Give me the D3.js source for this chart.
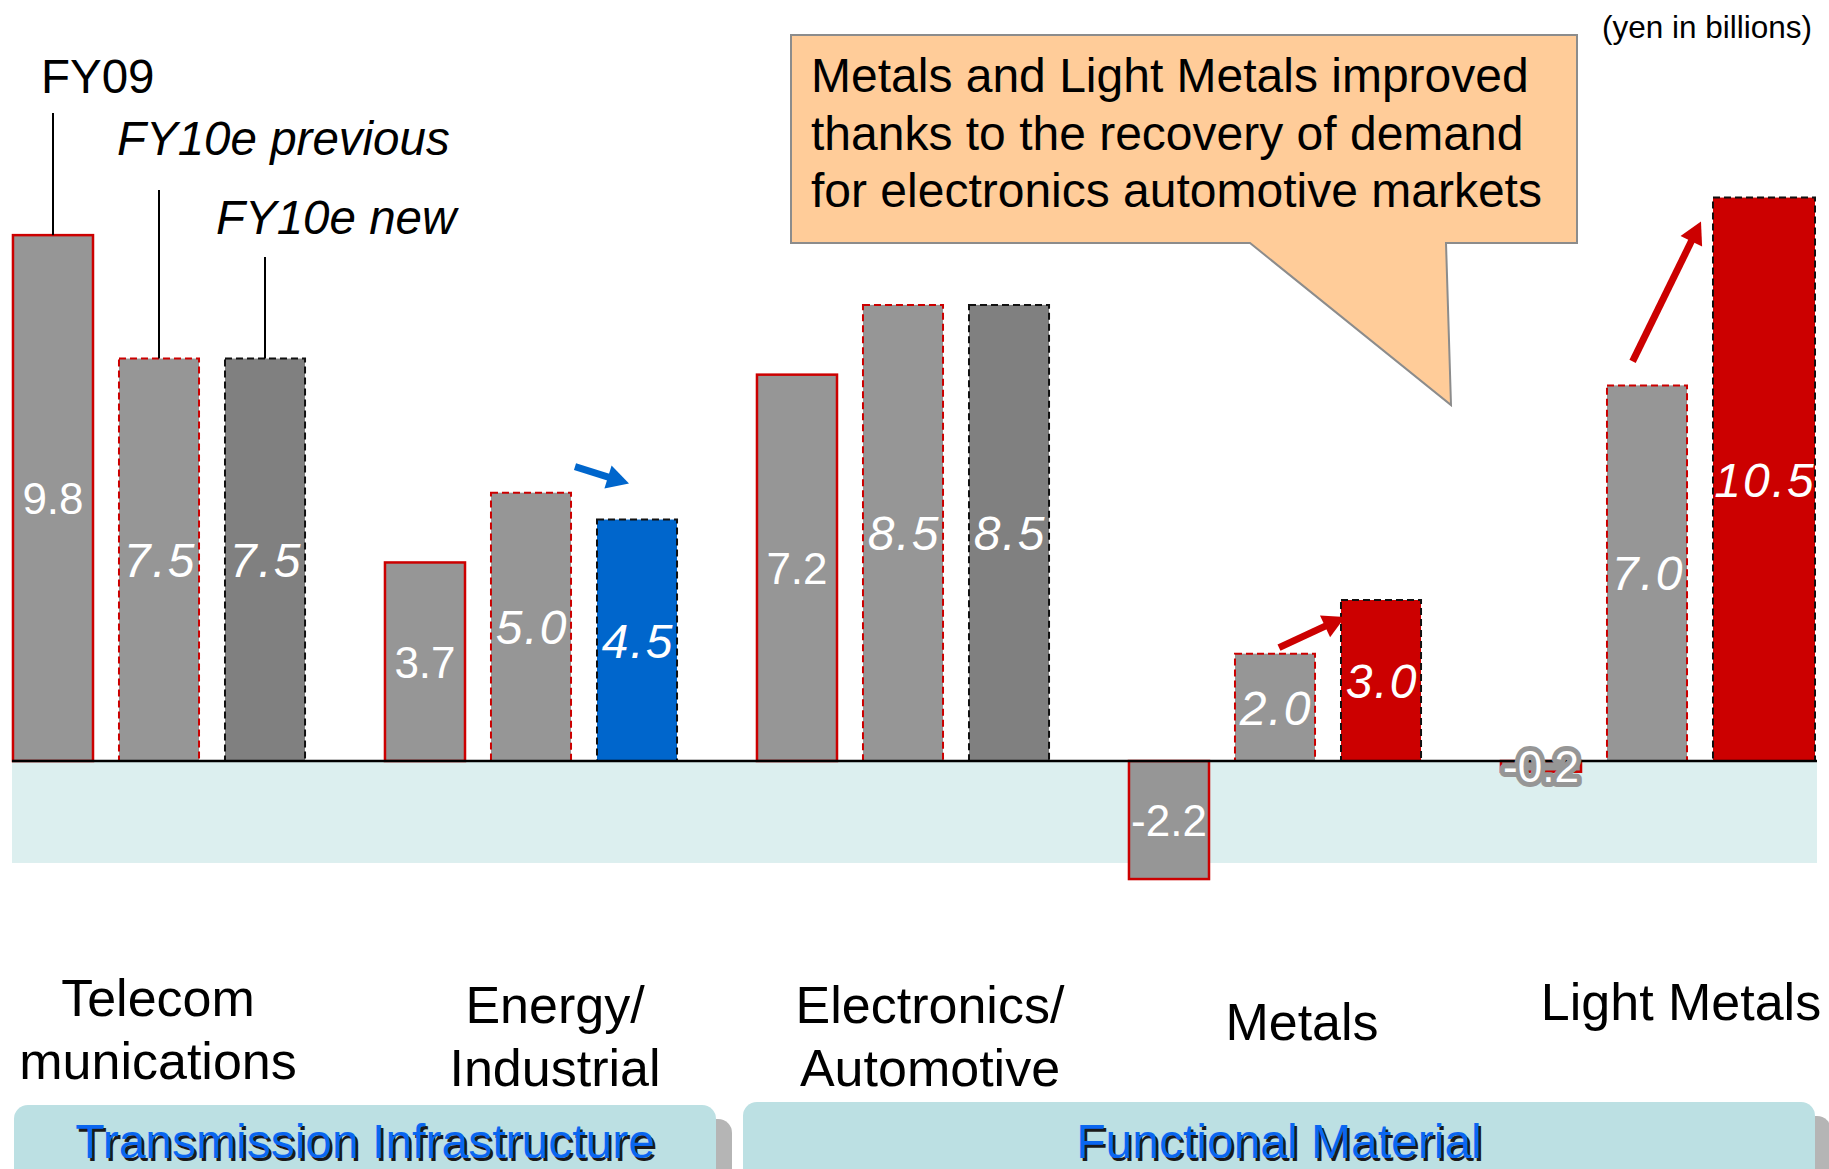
<!DOCTYPE html>
<html>
<head>
<meta charset="utf-8">
<script src="https://cdn.jsdelivr.net/npm/d3@7"></script>
<style>
  html, body { margin: 0; padding: 0; background: #ffffff; }
  svg { display: block; font-family: "Liberation Sans", Arial, Helvetica, sans-serif; }
</style>
</head>
<body>
<svg id="chart" width="1829" height="1169"></svg>
<script>
// Operating income by segment (yen in billions)
const categories = ["Telecommunications", "Energy/Industrial", "Electronics/Automotive", "Metals", "Light Metals"];
const categoryLines = [["Telecom", "munications"], ["Energy/", "Industrial"], ["Electronics/", "Automotive"], ["Metals"], ["Light Metals"]];
const seriesNames = ["FY09", "FY10e previous", "FY10e new"];
const fy09 = [9.8, 3.7, 7.2, -2.2, -0.2];
const fy10Previous = [7.5, 5.0, 8.5, 2.0, 7.0];
const fy10New = [7.5, 4.5, 8.5, 3.0, 10.5];
// direction of the new forecast versus the previous one
const revision = ["flat", "down", "flat", "up", "up"];
const segmentNames = ["Transmission Infrastructure", "Functional Material"];
const segmentMembers = [[0, 1], [2, 3, 4]];
const unitNote = "(yen in billions)";
const calloutLines = [
  "Metals and Light Metals improved",
  "thanks to the recovery of demand",
  "for electronics automotive markets"
];

const svg = d3.select("#chart");

const valuesBySeries = [fy09, fy10Previous, fy10New];
const rows = [];
categories.forEach((c, i) => {
  seriesNames.forEach((s, j) => rows.push({ cat: c, ci: i, series: s, si: j, value: valuesBySeries[j][i] }));
});

// scales
const x0 = d3.scaleBand().domain(categories).range([-27, 1833]).padding(0);
const x1 = d3.scaleBand().domain(seriesNames).range([0, x0.bandwidth()])
  .paddingInner(0.245).paddingOuter(0.377);
const y = d3.scaleLinear().domain([0, 10]).range([761, 224.4]);
const bandLeft = 12, bandRight = 1817;
const bw = x1.bandwidth();
const barX = d => x0(d.cat) + x1(d.series);
// the right-most bar runs out to the end of the plot band
const isLastBar = d => d.ci === categories.length - 1 && d.si === seriesNames.length - 1;
const barW = d => isLastBar(d) ? bandRight - 2 - barX(d) : bw;
const barTop = d => y(Math.max(0, d.value));
const barH = d => Math.abs(y(d.value) - y(0));

const revisionFill = { flat: "#808080", down: "#0066cc", up: "#cc0000" };
const fillOf = d => d.si === 2 ? revisionFill[revision[d.ci]] : "#969696";
const strokeOf = d => d.si === 2 ? "#111111" : "#cc0000";
const dashOf = d => d.si === 0 ? null : "7,4";

// negative-value band under the zero line
svg.append("rect")
  .attr("x", bandLeft).attr("y", y(0))
  .attr("width", bandRight - bandLeft).attr("height", y(-1.9) - y(0))
  .attr("fill", "#dcefef");

// bars
svg.append("g").selectAll("rect").data(rows).join("rect")
  .attr("x", barX)
  .attr("y", barTop)
  .attr("width", barW)
  .attr("height", barH)
  .attr("fill", fillOf)
  .attr("stroke", strokeOf)
  .attr("stroke-width", d => d.si === 0 ? 2.5 : 2)
  .attr("stroke-dasharray", dashOf);

// zero line
svg.append("line")
  .attr("x1", bandLeft).attr("x2", bandRight)
  .attr("y1", y(0)).attr("y2", y(0))
  .attr("stroke", "#000").attr("stroke-width", 2.5);

// value labels, centred in each bar
const labels = svg.append("g").selectAll("text").data(rows).join("text")
  .attr("x", d => barX(d) + barW(d) / 2)
  .attr("y", d => barTop(d) + barH(d) / 2)
  .attr("dy", "0.36em")
  .attr("text-anchor", "middle")
  .attr("fill", "#ffffff")
  .text(d => d.value.toFixed(1));
labels.filter(d => d.si === 0)
  .attr("font-size", 44);
labels.filter(d => d.si > 0)
  .attr("font-size", 48)
  .attr("font-style", "italic")
  .attr("letter-spacing", 2)
  .attr("dx", 1);
// a bar too short to hold its label gets a grey halo behind the text
labels.filter(d => barH(d) < 36)
  .attr("stroke", "#969696")
  .attr("stroke-width", 10)
  .attr("stroke-linejoin", "round")
  .attr("paint-order", "stroke");

// series key with leader lines to the first group
const keyLayout = [
  { dx: -12, base: 93, lineTop: 113, italic: false },
  { dx: -42, base: 155, lineTop: 190, italic: true },
  { dx: -49, base: 234, lineTop: 257, italic: true }
];
seriesNames.forEach((s, j) => {
  const d = rows.find(r => r.ci === 0 && r.si === j);
  const cx = barX(d) + bw / 2;
  svg.append("text")
    .attr("x", cx + keyLayout[j].dx).attr("y", keyLayout[j].base)
    .attr("font-size", 47.5)
    .attr("font-style", keyLayout[j].italic ? "italic" : "normal")
    .attr("fill", "#000")
    .text(s);
  svg.append("line")
    .attr("x1", cx).attr("x2", cx)
    .attr("y1", keyLayout[j].lineTop).attr("y2", y(d.value))
    .attr("stroke", "#000").attr("stroke-width", 2);
});

// revision arrows between previous and new forecast
function arrow(ci, color, p0, p1) {
  const prev = rows.find(r => r.ci === ci && r.si === 1);
  const next = rows.find(r => r.ci === ci && r.si === 2);
  const ax = barX(prev) + p0[0], ay = y(prev.value) + p0[1];
  const bx = barX(next) + p1[0], by = y(next.value) + p1[1];
  const ang = Math.atan2(by - ay, bx - ax);
  const head = 22, half = 12, shaft = 7;
  const hx = bx - head * Math.cos(ang), hy = by - head * Math.sin(ang);
  svg.append("line")
    .attr("x1", ax).attr("y1", ay).attr("x2", hx + 2 * Math.cos(ang)).attr("y2", hy + 2 * Math.sin(ang))
    .attr("stroke", color).attr("stroke-width", shaft);
  const nx = -Math.sin(ang), ny = Math.cos(ang);
  svg.append("path")
    .attr("d", `M${bx},${by}L${hx + nx * half},${hy + ny * half}L${hx - nx * half},${hy - ny * half}Z`)
    .attr("fill", color);
}
const energy = categories.indexOf("Energy/Industrial");
const metals = categories.indexOf("Metals");
const light = categories.indexOf("Light Metals");
arrow(energy, "#0066cc", [bw + 4, -26], [bw * 0.4, -36]);
arrow(metals, "#cc0000", [bw * 0.55, -6], [bw * 0.05, 17]);
arrow(light, "#cc0000", [bw * 0.32, -24], [-12, 24]);

// callout box
const box = { l: 791, t: 35, r: 1577, b: 243 };
svg.append("path")
  .attr("d", `M${box.l},${box.t}H${box.r}V${box.b}H1446L1451,405L1250,${box.b}H${box.l}Z`)
  .attr("fill", "#ffcc99").attr("stroke", "#8c8c8c").attr("stroke-width", 2);
svg.append("g").selectAll("text").data(calloutLines).join("text")
  .attr("x", box.l + 20)
  .attr("y", (d, i) => 92 + i * 57.5)
  .attr("font-size", 48).attr("fill", "#000")
  .text(d => d);

// unit note
svg.append("text")
  .attr("x", 1812).attr("y", 38)
  .attr("text-anchor", "end").attr("font-size", 31.5).attr("fill", "#000")
  .text(unitNote);

// category names
const labelCenters = [158, 555, 930, 1302, 1681];
const labelBase = [1016, 1023, 1023, 1040, 1020];
categories.forEach((c, i) => {
  const t = svg.append("text")
    .attr("x", labelCenters[i]).attr("y", labelBase[i])
    .attr("text-anchor", "middle").attr("font-size", 52).attr("fill", "#000");
  categoryLines[i].forEach((line, k) => {
    t.append("tspan").attr("x", labelCenters[i]).attr("dy", k === 0 ? 0 : 63).text(line);
  });
});

// segment boxes along the bottom
segmentNames.forEach((name, s) => {
  const members = segmentMembers[s].map(i => categories[i]);
  const left = Math.max(14, x0(members[0]) + 26);
  const right = Math.min(1815, x0(members[members.length - 1]) + x0.bandwidth() - 1);
  const top = s === 0 ? 1105 : 1102;
  svg.append("rect")
    .attr("x", left + 16).attr("y", top + 14)
    .attr("width", right - left).attr("height", 120).attr("rx", 14)
    .attr("fill", "#b5b5b5");
  svg.append("rect")
    .attr("x", left).attr("y", top)
    .attr("width", right - left).attr("height", 120).attr("rx", 14)
    .attr("fill", "#bce0e3");
  const cx = (left + right) / 2;
  svg.append("text")
    .attr("x", cx + 2.5).attr("y", 1160.5)
    .attr("text-anchor", "middle").attr("font-size", 48).attr("fill", "#1a1a1a")
    .text(name);
  svg.append("text")
    .attr("x", cx).attr("y", 1158)
    .attr("text-anchor", "middle").attr("font-size", 48).attr("fill", "#0a66f0")
    .text(name);
});
</script>
</body>
</html>
